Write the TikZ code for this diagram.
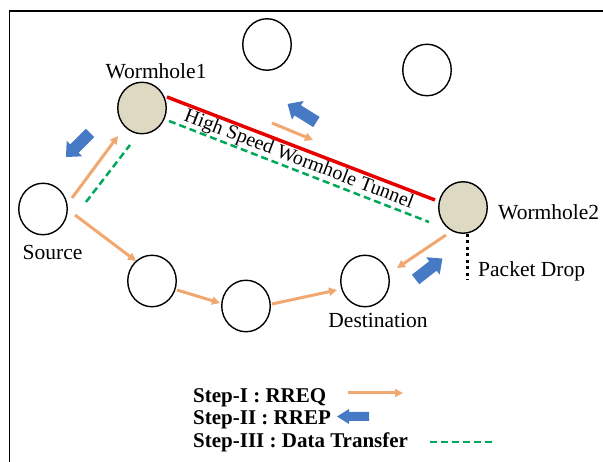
\documentclass[tikz,border=0pt]{standalone}
\usepackage{fontspec}
\setmainfont{Liberation Serif}
\usetikzlibrary{shapes.geometric,arrows.meta,calc}
\definecolor{rreqc}{RGB}{240,168,112}
\definecolor{rrepc}{RGB}{70,122,196}
\definecolor{datac}{RGB}{0,168,90}
\definecolor{tunnelc}{RGB}{230,0,0}
\definecolor{wormc}{RGB}{221,217,195}
% #1 x, #2 y, #3 angle, #4 half length, #5 head length, #6 head half-width, #7 body half-width
\newcommand{\rrepArrow}[7]{%
  \begin{scope}[shift={(#1,#2)},rotate=#3]
    \fill[rrepc] (-#4,-#7) -- ({#4-#5},-#7) -- ({#4-#5},-#6) -- (#4,0) -- ({#4-#5},#6) -- ({#4-#5},#7) -- (-#4,#7) -- cycle;
  \end{scope}}
\begin{document}
\begin{tikzpicture}[x=1pt,y=-1pt,
  host/.style={ellipse, draw, line width=1.4pt, minimum width=48.5pt, minimum height=51.5pt, inner sep=0pt, fill=white},
  worm/.style={host, fill=wormc},
  rreq/.style={draw=rreqc, line width=3pt, -{Triangle[length=8pt,width=8pt]}},
  data/.style={draw=datac, line width=2.5pt, dash pattern=on 7pt off 4pt},
  tunnel/.style={draw=tunnelc, line width=3.5pt},
  lbl/.style={inner sep=0pt, font=\fontsize{21.5}{24}\selectfont},
  leg/.style={inner sep=0pt, font=\fontsize{21}{24}\selectfont\bfseries, anchor=base west},
  drop/.style={line width=3pt, dash pattern=on 3pt off 3.5pt}]
\useasboundingbox (0,0) rectangle (603,462);
\fill[white] (0,0) rectangle (603,462);
\draw[line width=1.5pt] (9.5,463) -- (9.5,11) -- (604,11);

% nodes
\node[host] (t1) at (267,44.5) {};
\node[host] (t2) at (427,70) {};
\node[worm] (w1) at (142,108) {};
\node[worm] (w2) at (463,207.5) {};
\node[host] (src) at (43,209) {};
\node[host] (a) at (152,281) {};
\node[host] (b) at (246,306) {};
\node[host] (dst) at (365,281) {};

% labels
\node[lbl, anchor=base] (lw1) at (156,79) {Wormhole1};
\node[lbl, anchor=base west] (lw2) at (498,220) {Wormhole2};
\node[lbl, anchor=base] (lsrc) at (52.5,260) {Source};
\node[lbl, anchor=base] (ldst) at (378,328) {Destination};
\node[lbl, anchor=base west] (lpd) at (478,277) {Packet Drop};
\node[lbl, font=\fontsize{20}{22}\selectfont, rotate=-21, anchor=base] (ltun) at (297,164.5) {High Speed Wormhole Tunnel};

% tunnel
\draw[tunnel] ([shift={(25,-11)}]w1.center) -- ([shift={(-28,-7.5)}]w2.center);
\draw[data] ([shift={(27,13)}]w1.center) -- ([shift={(-34,14.5)}]w2.center);

% RREQ arrows
\draw[rreq] ([shift={(29,-11)}]src.center) -- ([shift={(-24,28)}]w1.center);
\draw[data] ([shift={(43,-7)}]src.center) -- ([shift={(-12,37)}]w1.center);
\draw[rreq] ([shift={(32,6)}]src.center) -- ([shift={(-16,-20)}]a.center);
\draw[rreq] ([shift={(25,9)}]a.center) -- ([shift={(-26,-3)}]b.center);
\draw[rreq] ([shift={(26,-2)}]b.center) -- ([shift={(-28,9)}]dst.center);
\draw[rreq] ([shift={(-17,27.5)}]w2.center) -- ([shift={(32,-13)}]dst.center);
\coordinate (q1) at (272,123);
\coordinate (q2) at (313,140);
\draw[rreq] (q1) -- (q2);

% packet drop
\draw[drop] ([xshift=4pt]w2.south) -- ++(0,46);

% RREP arrows
\rrepArrow{78}{145}{225}{17}{12}{11}{6}
\rrepArrow{302}{113}{148}{17}{12}{11}{6}
\rrepArrow{429}{269}{38}{17}{12}{11}{6}

% legend
\node[leg] (s1) at (193,403) {Step-I : RREQ};
\node[leg] (s2) at (193,424.5) {Step-II : RREP};
\node[leg] (s3) at (193,448) {Step-III : Data Transfer};
\coordinate (r1) at (348,393);
\coordinate (r2) at (403,393);
\draw[rreq] (r1) -- (r2);
\rrepArrow{353}{416.5}{180}{16}{12}{7.5}{4.5}
\coordinate (d1) at (430,442);
\coordinate (d2) at (495,442);
\draw[data] (d1) -- (d2);
\end{tikzpicture}
\end{document}
